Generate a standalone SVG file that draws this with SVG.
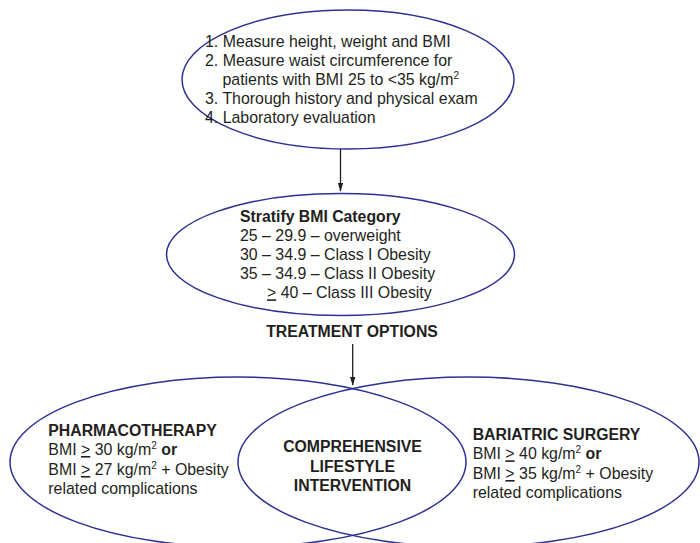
<svg xmlns="http://www.w3.org/2000/svg" width="700" height="543" viewBox="0 0 700 543">
  <style>
    .shape { fill: none; stroke: #2e3192; stroke-width: 1.5; }
    .txt { font-family: "Liberation Sans", Arial, sans-serif; font-size: 15.9px; fill: #231f20; }
    .b { font-weight: bold; font-size: 15.8px; }
    .sup { font-size: 10px; }
    .conn { stroke: #231f20; stroke-width: 1.3; fill: none; }
  </style>
  <defs>
    <marker id="arrow" markerUnits="userSpaceOnUse" markerWidth="9" markerHeight="14" refX="12" refY="4.5" orient="auto" viewBox="0 0 13 9">
      <path d="M0,0.5 L13,4.5 L0,8.5 Z" fill="#231f20"/>
    </marker>
  </defs>
  <rect width="700" height="543" fill="#ffffff"/>

  <!-- Assessment steps -->
  <g id="assessment">
    <ellipse class="shape" cx="348" cy="79.5" rx="166" ry="69.5"/>
    <text class="txt" x="205" y="47">1. Measure height, weight and BMI</text>
    <text class="txt" x="205" y="66">2. Measure waist circumference for</text>
    <text class="txt" x="222.5" y="85">patients with BMI 25 to &lt;35 kg/m<tspan class="sup" dy="-6">2</tspan></text>
    <text class="txt" x="205" y="104">3. Thorough history and physical exam</text>
    <text class="txt" x="205" y="123.3">4. Laboratory evaluation</text>
  </g>

  <!-- BMI stratification -->
  <g id="stratify">
    <ellipse class="shape" cx="340.5" cy="254.5" rx="174" ry="61"/>
    <text class="txt b" x="240" y="221.5">Stratify BMI Category</text>
    <text class="txt" x="240" y="241">25 – 29.9 – overweight</text>
    <text class="txt" x="240" y="260">30 – 34.9 – Class I Obesity</text>
    <text class="txt" x="240" y="279">35 – 34.9 – Class II Obesity</text>
    <text class="txt" x="267" y="298.3"><tspan text-decoration="underline">&gt;</tspan> 40 – Class III Obesity</text>
  </g>

  <g id="treatment-label">
    <text class="txt b" x="352" y="336.7" text-anchor="middle">TREATMENT OPTIONS</text>
  </g>

  <!-- Treatment options: two overlapping ellipses -->
  <g id="pharmacotherapy">
    <ellipse class="shape" cx="238" cy="462" rx="228" ry="85"/>
    <text class="txt b" x="48.3" y="436">PHARMACOTHERAPY</text>
    <text class="txt" x="48.3" y="455">BMI <tspan text-decoration="underline">&gt;</tspan> 30 kg/m<tspan class="sup" dy="-6">2</tspan><tspan dy="6" font-weight="bold"> or</tspan></text>
    <text class="txt" x="48.3" y="475">BMI <tspan text-decoration="underline">&gt;</tspan> 27 kg/m<tspan class="sup" dy="-6">2</tspan><tspan dy="6"> + Obesity</tspan></text>
    <text class="txt" x="48.3" y="493.5">related complications</text>
  </g>

  <g id="bariatric-surgery">
    <ellipse class="shape" cx="468.5" cy="462" rx="230.5" ry="85"/>
    <text class="txt b" x="472.7" y="440">BARIATRIC SURGERY</text>
    <text class="txt" x="472.7" y="459.3">BMI <tspan text-decoration="underline">&gt;</tspan> 40 kg/m<tspan class="sup" dy="-6">2</tspan><tspan dy="6" font-weight="bold"> or</tspan></text>
    <text class="txt" x="472.7" y="479">BMI <tspan text-decoration="underline">&gt;</tspan> 35 kg/m<tspan class="sup" dy="-6">2</tspan><tspan dy="6"> + Obesity</tspan></text>
    <text class="txt" x="472.7" y="497.7">related complications</text>
  </g>

  <g id="lifestyle">
    <text class="txt b" x="352.5" y="452.3" text-anchor="middle">COMPREHENSIVE</text>
    <text class="txt b" x="352.5" y="471.7" text-anchor="middle">LIFESTYLE</text>
    <text class="txt b" x="352.5" y="490.7" text-anchor="middle">INTERVENTION</text>
  </g>

  <!-- Connectors -->
  <g id="connectors">
    <line class="conn" x1="340.5" y1="149" x2="340.5" y2="191" marker-end="url(#arrow)"/>
    <line class="conn" x1="352.7" y1="344" x2="352.7" y2="385" marker-end="url(#arrow)"/>
  </g>
</svg>
